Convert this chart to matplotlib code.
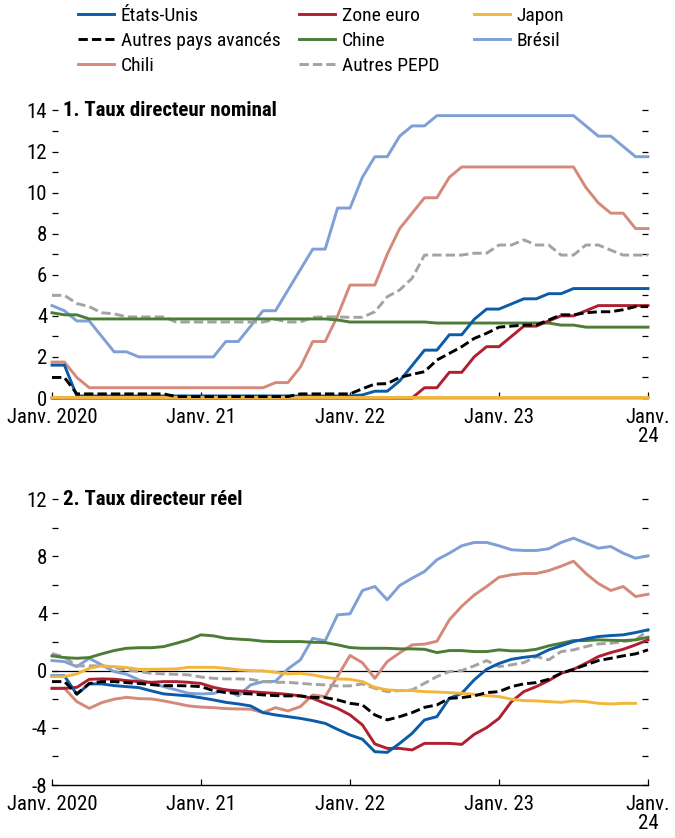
import numpy as np
import matplotlib
matplotlib.use('Agg')
import matplotlib.pyplot as plt

plt.rcParams['font.family'] = ['Roboto Condensed', 'DejaVu Sans']

# mois depuis janv. 2020 (0) jusqu'a janv. 2024 (48)
mois = np.arange(49)
positions_x = [0, 12, 24, 36, 48]
etiquettes_x = ['Janv. 2020', 'Janv. 21', 'Janv. 22', 'Janv. 23', 'Janv.\n24']

noms = ['États-Unis', 'Zone euro', 'Japon', 'Autres pays avancés',
        'Chine', 'Brésil', 'Chili', 'Autres PEPD']

# 1. taux directeur nominal
nom_eu = [1.6, 1.6] + [0.1] * 23 + [0.15, 0.33, 0.33, 0.83, 1.58, 2.33, 2.33, 3.08, 3.08,
                                   3.83, 4.33, 4.33, 4.58, 4.83, 4.83, 5.08, 5.08] + [5.33] * 7
nom_ze = [0.0] * 30 + [0.5, 0.5, 1.25, 1.25, 2.0, 2.5, 2.5, 3.0, 3.5, 3.5, 3.75, 4.0, 4.0,
                       4.25] + [4.5] * 5
nom_jp = [0.05] * 49
nom_apa = [1.0, 1.0] + [0.2] * 8 + [0.07] * 10 + [0.2] * 5 + \
    [0.45, 0.68, 0.7, 1.0, 1.15, 1.28, 1.85, 2.17, 2.5, 2.9, 3.15, 3.45, 3.5, 3.55, 3.55,
     3.8, 4.05, 4.05, 4.15, 4.2, 4.2, 4.3, 4.45, 4.45]
nom_cn = [4.15, 4.05, 4.05] + [3.85] * 20 + [3.8] + [3.7] * 7 + [3.65] * 10 + [3.55] * 2 + \
    [3.45] * 6
nom_br = [4.5, 4.25, 3.75, 3.75, 3.0, 2.25, 2.25] + [2.0] * 7 + \
    [2.75, 2.75, 3.5, 4.25, 4.25, 5.25, 6.25, 7.25, 7.25, 9.25, 9.25, 10.75, 11.75, 11.75,
     12.75, 13.25, 13.25] + [13.75] * 12 + [13.25, 12.75, 12.75, 12.25, 11.75, 11.75]
nom_cl = [1.75, 1.75, 1.0] + [0.5] * 15 + \
    [0.75, 0.75, 1.5, 2.75, 2.75, 4.0, 5.5, 5.5, 5.5, 7.0, 8.25, 9.0, 9.75, 9.75, 10.75] + \
    [11.25] * 10 + [10.25, 9.5, 9.0, 9.0, 8.25, 8.25]
nom_pepd = [5.0, 5.0, 4.6, 4.45, 4.15, 4.1, 3.95, 3.95, 3.95, 3.95] + [3.7] * 8 + \
    [3.83, 3.7, 3.7, 3.93, 3.95, 3.95, 3.93, 3.93, 4.2, 4.93, 5.26, 5.83] + [6.96] * 4 + \
    [7.05, 7.05, 7.45, 7.45, 7.7, 7.45, 7.45, 6.96, 6.96, 7.45, 7.45, 7.2, 6.96, 6.96, 6.96]

# 2. taux directeur reel
reel_eu = [-0.37, -0.37, -1.66, -0.93, -0.93, -1.05, -1.12, -1.19, -1.42, -1.63, -1.7, -1.77,
           -1.9, -2.05, -2.22, -2.33, -2.47, -2.94, -3.1, -3.22, -3.34, -3.5, -3.69, -4.11,
           -4.5, -4.8, -5.67, -5.72, -5.09, -4.39, -3.45, -3.22, -1.94, -1.59, -0.65, 0.09,
           0.5, 0.79, 0.93, 1.03, 1.45, 1.73, 2.03, 2.22, 2.38, 2.45, 2.5, 2.66, 2.85]
reel_ze = [-1.24, -1.24, -1.17, -0.61, -0.58, -0.6, -0.7, -0.77, -0.82, -0.77, -0.77, -0.82,
           -0.9, -1.17, -1.35, -1.42, -1.47, -1.54, -1.59, -1.66, -1.77, -1.94, -2.3, -2.64,
           -3.1, -3.8, -5.13, -5.44, -5.44, -5.55, -5.09, -5.09, -5.09, -5.16, -4.46, -3.99,
           -3.34, -2.17, -1.47, -1.12, -0.7, -0.19, 0.09, 0.51, 0.98, 1.26, 1.49, 1.8, 2.15]
reel_jp = [-0.42, -0.42, -0.23, 0.16, 0.33, 0.28, 0.21, 0.09, 0.09, 0.1, 0.12, 0.23,
           0.23, 0.23, 0.16, 0.05, 0.0, -0.02, -0.12, -0.23, -0.19, -0.3, -0.47, -0.58,
           -0.61, -0.77, -1.17, -1.35, -1.4, -1.4, -1.47, -1.5, -1.54, -1.59, -1.66, -1.75,
           -1.82, -2.0, -2.1, -2.12, -2.17, -2.22, -2.12, -2.17, -2.29, -2.33, -2.29, -2.29,
           np.nan]
reel_apa = [-0.77, -0.77, -1.63, -0.9, -0.77, -0.77, -0.84, -0.9, -0.98, -1.05, -1.05, -1.07,
            -1.12, -1.4, -1.54, -1.59, -1.63, -1.7, -1.75, -1.77, -1.77, -1.87, -1.89, -2.05,
            -2.29, -2.4, -3.1, -3.45, -3.22, -2.94, -2.57, -2.4, -1.94, -1.89, -1.77, -1.54,
            -1.47, -1.12, -0.93, -0.84, -0.61, -0.19, 0.09, 0.4, 0.7, 0.86, 1.03, 1.17, 1.45]
reel_cn = [1.03, 0.91, 0.86, 0.91, 1.17, 1.4, 1.56, 1.6, 1.6, 1.68, 1.91, 2.15,
           2.5, 2.43, 2.26, 2.2, 2.15, 2.05, 2.03, 2.03, 2.03, 1.98, 1.96, 1.8,
           1.61, 1.56, 1.56, 1.56, 1.52, 1.52, 1.49, 1.26, 1.4, 1.4, 1.33, 1.33,
           1.45, 1.38, 1.38, 1.49, 1.73, 1.91, 2.1, 2.1, 2.15, 2.12, 2.1, 2.15, 2.33]
reel_br = [0.7, 0.63, 0.28, 0.86, 0.4, -0.07, -0.25, -0.65, -0.89, -1.12, -1.35, -1.59,
           -1.63, -1.6, -1.32, -1.77, -1.0, -0.77, -0.75, 0.12, 0.75, 2.26, 2.08, 3.9,
           3.97, 5.6, 5.88, 4.95, 5.95, 6.46, 6.93, 7.75, 8.21, 8.73, 8.96, 8.96,
           8.73, 8.45, 8.4, 8.4, 8.52, 8.96, 9.26, 8.91, 8.56, 8.68, 8.21, 7.86, 8.03]
reel_cl = [-1.24, -1.24, -2.17, -2.64, -2.24, -2.0, -1.87, -1.96, -1.98, -2.12, -2.29, -2.47,
           -2.55, -2.59, -2.66, -2.68, -2.7, -2.94, -2.59, -2.82, -2.52, -1.7, -1.82, -0.4,
           1.06, 0.55, -0.54, 0.63, 1.24, 1.8, 1.85, 2.05, 3.55, 4.5, 5.28, 5.88,
           6.53, 6.7, 6.79, 6.79, 6.99, 7.3, 7.65, 6.79, 6.09, 5.6, 5.88, 5.18, 5.34]
reel_pepd = [1.19, 0.95, 0.33, 0.33, 0.33, 0.21, 0.05, -0.07, -0.19, -0.23, -0.26, -0.3,
             -0.45, -0.54, -0.58, -0.58, -0.61, -0.77, -0.82, -0.82, -0.89, -0.96, -1.0, -1.07,
             -1.07, -0.93, -1.24, -1.47, -1.4, -1.35, -0.89, -0.42, -0.07, 0.0, 0.33, 0.7,
             0.28, 0.4, 0.56, 0.98, 0.75, 1.33, 1.45, 1.68, 1.87, 1.91, 2.03, 2.15, 2.8]

couleurs = ['#0b5ca8', '#b01f30', '#f3b63c', 'black', '#4b7d37', '#7f9fd6', '#d4897a', '#a3a3a3']
styles = ['-', '-', '-', '--', '-', '-', '-', '--']
ordre_trace = [5, 6, 7, 4, 1, 0, 2, 3]

nominal = [nom_eu, nom_ze, nom_jp, nom_apa, nom_cn, nom_br, nom_cl, nom_pepd]
reel = [reel_eu, reel_ze, reel_jp, reel_apa, reel_cn, reel_br, reel_cl, reel_pepd]

W, H = 675, 838
fig = plt.figure(figsize=(W / 100, H / 100), dpi=100)
ax1 = fig.add_axes([52 / W, 1 - 398 / H, 596 / W, 287.5 / H])
ax2 = fig.add_axes([52 / W, 1 - 785 / H, 596 / W, 286 / H])


def tracer(ax, series):
    lignes = {}
    for i in ordre_trace:
        l, = ax.plot(mois, series[i], color=couleurs[i], lw=2.1, ls=styles[i],
                     clip_on=False, zorder=3, label=noms[i])
        if styles[i] == '--':
            l.set_dashes((3.2, 1.4))
        lignes[i] = l
    return lignes


def habiller(ax, ymin, ymax, pas, pas_label, titre):
    ax.set_xlim(0, 48)
    ax.set_ylim(ymin, ymax)
    for s in ['left', 'right', 'top']:
        ax.spines[s].set_visible(False)
    ax.spines['bottom'].set_linewidth(1.0)
    ax.spines['bottom'].set_zorder(2.5)
    yt = np.arange(ymin, ymax + 1, pas)
    ax.set_yticks(yt)
    ax.set_yticklabels([('%d' % v if v % pas_label == 0 else '') for v in yt])
    ax.set_xticks(positions_x)
    ax.set_xticklabels(etiquettes_x, linespacing=0.95)
    ax.tick_params(axis='y', direction='in', left=True, right=True, length=4,
                   width=0.9, pad=3.5, labelsize=15)
    ax.tick_params(axis='x', direction='in', length=4, width=0.9, pad=7.5, labelsize=15)
    ax.text(0.0185, ymax, titre, transform=ax.get_yaxis_transform(), ha='left',
            va='center', fontsize=15, fontweight='bold')


lignes = tracer(ax1, nominal)
habiller(ax1, 0, 14, 1, 2, '1. Taux directeur nominal')

tracer(ax2, reel)
ax2.axhline(0, color='black', lw=0.9, zorder=2)
habiller(ax2, -8, 12, 2, 4, '2. Taux directeur réel')

# legende en trois colonnes
colonnes = [[0, 3, 6], [1, 4, 7], [2, 5]]
x_col = [78, 299, 474]
for xc, col in zip(x_col, colonnes):
    fig.legend([lignes[i] for i in col], [noms[i] for i in col], loc='upper left',
               bbox_to_anchor=(xc / W, 1 - 7 / H), frameon=False, fontsize=14,
               borderpad=0, borderaxespad=0, handlelength=1.85, handletextpad=0.36,
               labelspacing=0.35)

fig.savefig('out.png', dpi=100)
